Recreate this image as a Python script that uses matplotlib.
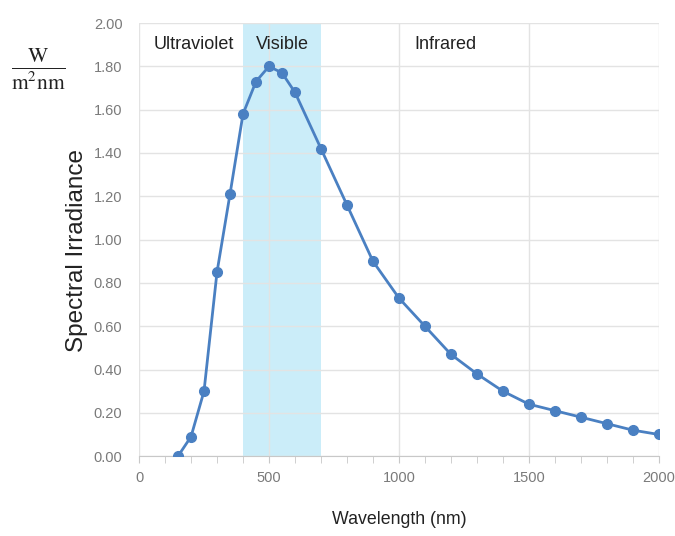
import numpy as np
import matplotlib
matplotlib.use('Agg')
import matplotlib.pyplot as plt
from matplotlib.ticker import MultipleLocator

# spectral irradiance
wavelength = [150, 200, 250, 300, 350, 400, 450, 500, 550, 600, 700, 800, 900,
              1000, 1100, 1200, 1300, 1400, 1500, 1600, 1700, 1800, 1900, 2000]
irradiance = [0.00, 0.09, 0.30, 0.85, 1.21, 1.58, 1.73, 1.80, 1.77, 1.68, 1.42, 1.16, 0.90,
              0.73, 0.60, 0.47, 0.38, 0.30, 0.24, 0.21, 0.18, 0.15, 0.12, 0.10]
regions = ['Ultraviolet', 'Visible', 'Infrared']
region_x = [212, 552, 1180]
visible_band = (400, 700)

plt.rcParams['mathtext.fontset'] = 'stix'
plt.rcParams['font.family'] = ['Liberation Sans', 'DejaVu Sans']

fig = plt.figure(figsize=(6.75, 5.36), dpi=100)
ax = fig.add_axes([0.206, 0.149, 0.770, 0.808])

ax.axvspan(visible_band[0], visible_band[1], color='#cbedf9', zorder=0, lw=0)
ax.plot(wavelength, irradiance, color='#4a80c2', lw=2, marker='o', ms=7, zorder=3)

ax.set_xlim(0, 2000)
ax.set_ylim(0, 2.0)
ax.xaxis.set_major_locator(MultipleLocator(500))
ax.xaxis.set_minor_locator(MultipleLocator(100))
yt = np.arange(0, 2.01, 0.2)
ax.set_yticks(yt)
ax.set_yticklabels(['%.2f' % v for v in yt])

ax.grid(True, which='major', color='#e3e3e3', lw=1, zorder=1)
for s in ['top', 'right', 'left']:
    ax.spines[s].set_visible(False)
ax.spines['bottom'].set_color('#c8c8c8')
ax.tick_params(axis='x', which='both', direction='out', color='#c8c8c8', length=5, pad=6)
ax.tick_params(axis='y', length=0, pad=12)
for lab in ax.get_xticklabels() + ax.get_yticklabels():
    lab.set_color('#7a7a7a')
    lab.set_fontsize(10.5)

for name, xpos in zip(regions, region_x):
    ax.text(xpos, 1.90, name, ha='center', va='center', fontsize=13, color='#222222')

ax.set_xlabel('Wavelength (nm)', fontsize=12.8, color='#222222')
ax.xaxis.set_label_coords(0.5, -0.127)
ax.set_ylabel('Spectral Irradiance', fontsize=17.5, color='#222222')
ax.yaxis.set_label_coords(-0.099, 0.475)

fig.text(0.057, 0.87, r'$\frac{\mathrm{W}}{\mathrm{m^2 nm}}$', fontsize=22,
         ha='center', va='center', color='#222222')

fig.savefig('out.png', dpi=100)
